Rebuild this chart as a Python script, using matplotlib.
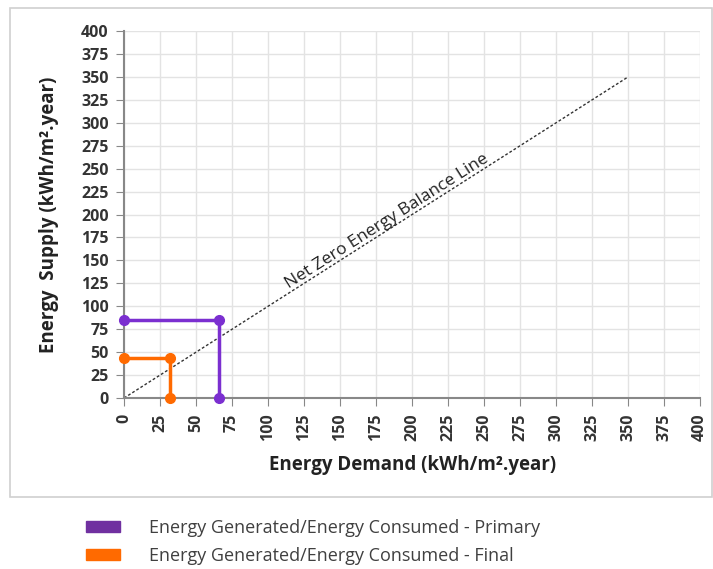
import matplotlib.pyplot as plt
from matplotlib.patches import Patch, Rectangle

# данные
primary_x = [0, 66, 66]
primary_y = [85, 85, 0]
final_x = [0, 32, 32]
final_y = [44, 44, 0]
balance_x = [0, 350]
balance_y = [0, 350]
ticks = list(range(0, 401, 25))

purple = '#7B2FD0'
orange = '#FF6A00'

plt.rcParams['font.family'] = ['Open Sans', 'DejaVu Sans']

fig = plt.figure(figsize=(7.13, 5.69), dpi=100)
fig.patches.append(Rectangle((0.014, 0.127), 0.984, 0.859, transform=fig.transFigure,
                             facecolor='white', edgecolor='#d0d0d0', linewidth=1.2, zorder=-1))
ax = fig.add_axes([0.174, 0.3005, 0.808, 0.645])

ax.plot(balance_x, balance_y, color='#333333', linestyle=(0, (2, 1.5)), linewidth=1)
ax.plot(primary_x, primary_y, color=purple, linewidth=2.5, marker='o', markersize=7,
        clip_on=False, zorder=3)
ax.plot(final_x, final_y, color=orange, linewidth=2.5, marker='o', markersize=7,
        clip_on=False, zorder=3)

ax.text(184, 189, 'Net Zero Energy Balance Line', rotation=45, transform_rotates_text=True,
        rotation_mode='anchor', ha='center', va='baseline', fontsize=12.5, color='#222222')

ax.set_xlim(0, 400)
ax.set_ylim(0, 400)
ax.set_xticks(ticks)
ax.set_yticks(ticks)
ax.tick_params(axis='x', labelrotation=90)
ax.tick_params(colors='#888888', labelcolor='#333333', labelsize=11.5, length=6, pad=5)
for lab in ax.get_xticklabels() + ax.get_yticklabels():
    lab.set_fontweight('bold')
ax.grid(color='#e3e3e3', linewidth=1)
ax.set_axisbelow(True)
for s in ['top', 'right']:
    ax.spines[s].set_visible(False)
for s in ['left', 'bottom']:
    ax.spines[s].set_color('#888888')
    ax.spines[s].set_linewidth(1.5)

ax.set_xlabel('Energy Demand (kWh/m².year)', fontsize=13.5, fontweight='bold', color='#222222',
              labelpad=10)
ax.set_ylabel('Energy  Supply (kWh/m².year)', fontsize=13.5, fontweight='bold', color='#222222',
              labelpad=16)

handles = [Patch(color='#7030A0', label='Energy Generated/Energy Consumed - Primary'),
           Patch(color=orange, label='Energy Generated/Energy Consumed - Final')]
leg = fig.legend(handles=handles, loc='upper left', bbox_to_anchor=(0.11, 0.1),
                 frameon=False, fontsize=13, handlelength=1.9, handleheight=0.55,
                 handletextpad=1.6, labelspacing=0.55, borderaxespad=0)
for t in leg.get_texts():
    t.set_color('#404040')

plt.savefig('out.png', dpi=100)
